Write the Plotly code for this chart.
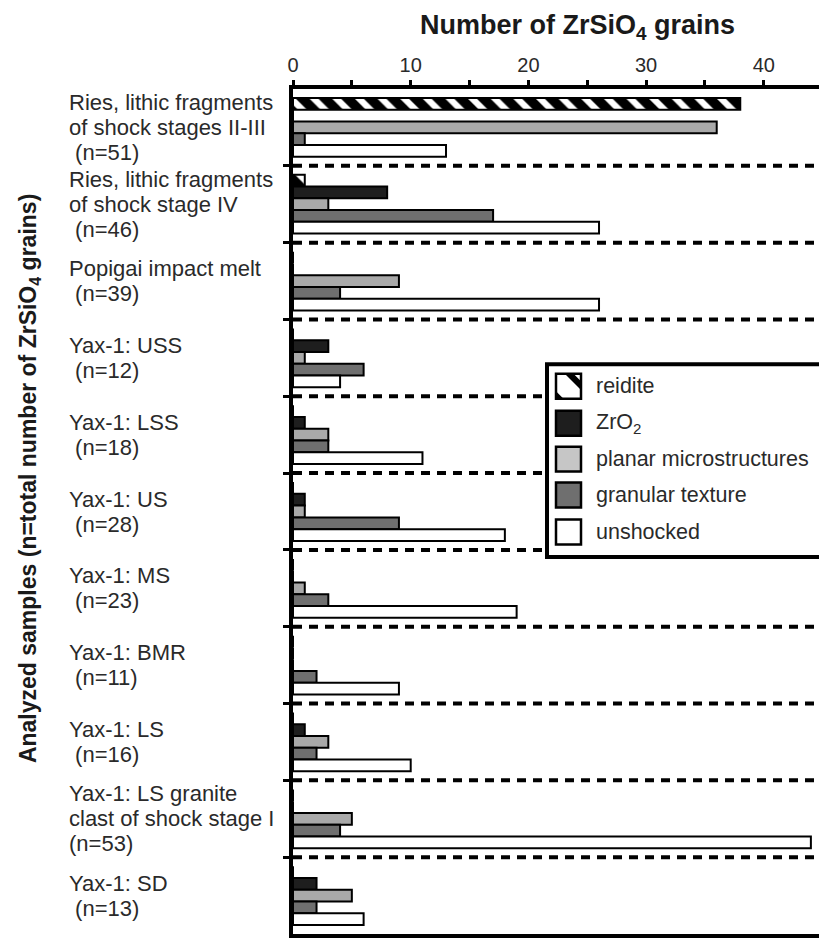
import plotly.graph_objects as go

# ---------------- data ----------------
samples = [
    "Ries, lithic fragments<br>of shock stages II-III<br>\u00a0(n=51)",
    "Ries, lithic fragments<br>of shock stage IV<br>\u00a0(n=46)",
    "Popigai impact melt<br>\u00a0(n=39)",
    "Yax-1: USS<br>\u00a0(n=12)",
    "Yax-1: LSS<br>\u00a0(n=18)",
    "Yax-1: US<br>\u00a0(n=28)",
    "Yax-1: MS<br>\u00a0(n=23)",
    "Yax-1: BMR<br>\u00a0(n=11)",
    "Yax-1: LS<br>\u00a0(n=16)",
    "Yax-1: LS granite<br>clast of shock stage I<br>(n=53)",
    "Yax-1: SD<br>\u00a0(n=13)",
]
series_names = ["reidite", "ZrO<sub>2</sub>", "planar microstructures",
                "granular texture", "unshocked"]
reidite   = [38, 1, 0, 0, 0, 0, 0, 0, 0, 0, 0]
zro2      = [0, 8, 0, 3, 1, 1, 0, 0, 1, 0, 2]
planar    = [36, 3, 9, 1, 3, 1, 1, 0, 3, 5, 5]
granular  = [1, 17, 4, 6, 3, 9, 3, 2, 2, 4, 2]
unshocked = [13, 26, 26, 4, 11, 18, 19, 9, 10, 44, 6]
x_major_ticks = [0, 10, 20, 30, 40]
x_minor_ticks = [5, 15, 25, 35]
x_title = "<b>Number of ZrSiO<sub>4</sub> grains</b>"
y_title = "<b>Analyzed samples (n=total number of ZrSiO<sub>4</sub> grains)</b>"

# ---------------- layout geometry ----------------
W, H = 819, 938
L, R, T, B = 293, 0, 89, 2
PW, PH = W - L - R, H - T - B
FONT = "Liberation Sans, Arial, Helvetica, sans-serif"

def px(xp):
    return (xp - L) / PW

def py(yp):
    return 1 - (yp - T) / PH

series_values = [reidite, zro2, planar, granular, unshocked]
fills = ["white", "#1e1e1e", "#a9a9a9", "#6f6f6f", "white"]
legend_fills = ["white", "#1e1e1e", "#c6c6c6", "#6f6f6f", "white"]
ypos = list(range(len(samples)))

fig = go.Figure()
for i, (name, vals) in enumerate(zip(series_names, series_values)):
    marker = dict(color=fills[i], line=dict(color="black", width=2))
    if i == 0:
        marker["pattern"] = dict(shape="\\", fgcolor="black", bgcolor="white",
                                 size=16, solidity=0.6, fgopacity=1)
    fig.add_trace(go.Bar(y=ypos, x=vals, orientation="h", name=name,
                         marker=marker, showlegend=False))

shapes = []
# dashed separators between sample groups
for k in range(len(samples) - 1):
    shapes.append(dict(type="line", xref="paper", yref="y", x0=0, x1=1,
                       y0=k + 0.5, y1=k + 0.5,
                       line=dict(color="black", width=4, dash="9px,7px")))

# legend box
lx0, ly0, ly1 = 547, 365, 558
shapes.append(dict(type="rect", xref="paper", yref="paper",
                   x0=px(lx0), x1=px(W + 20), y0=py(ly1), y1=py(ly0),
                   fillcolor="white", line=dict(color="black", width=4)))

annotations = []
icon_x0, icon_size = 556, 25
centers = [387, 424, 460, 496, 533]
for i, (name, cy) in enumerate(zip(series_names, centers)):
    x0, x1 = icon_x0, icon_x0 + icon_size
    y0, y1 = cy - icon_size / 2, cy + icon_size / 2
    shapes.append(dict(type="rect", xref="paper", yref="paper",
                       x0=px(x0), x1=px(x1), y0=py(y1), y1=py(y0),
                       fillcolor=legend_fills[i], line=dict(color="black", width=2.5)))
    if i == 0:
        w = icon_size
        band = [(x0 + 0.35 * w, y0), (x0 + 0.7 * w, y0), (x1, y0 + 0.3 * w),
                (x1, y0 + 0.65 * w)]
        tri = [(x0, y0 + 0.7 * w), (x0 + 0.3 * w, y1), (x0, y1)]
        for poly in (band, tri):
            path = "M " + " L ".join(f"{px(a):.5f},{py(b):.5f}" for a, b in poly) + " Z"
            shapes.append(dict(type="path", xref="paper", yref="paper", path=path,
                               fillcolor="black", line=dict(width=0)))
    annotations.append(dict(xref="paper", yref="paper", x=px(594), y=py(cy),
                            xanchor="left", yanchor="middle", showarrow=False,
                            text=name, font=dict(family=FONT, size=21.5, color="#2a2a2a")))

# sample labels (left-aligned, one annotation per line)
line_gap = 25
for k, lab in enumerate(samples):
    lines = lab.split("<br>")
    n = len(lines)
    for j, ln in enumerate(lines):
        annotations.append(dict(xref="paper", yref="y", x=px(67), y=k,
                                yshift=-(j - (n - 1) / 2) * line_gap,
                                xanchor="left", yanchor="middle", showarrow=False,
                                text=ln, align="left",
                                font=dict(family=FONT, size=22, color="#2a2a2a")))

# axis titles
annotations.append(dict(xref="paper", yref="paper", x=px(577), y=py(27),
                        xanchor="center", yanchor="middle", showarrow=False,
                        text=x_title, font=dict(family=FONT, size=27, color="#1a1a1a")))
annotations.append(dict(xref="paper", yref="paper", x=px(29), y=py(480),
                        xanchor="center", yanchor="middle", showarrow=False,
                        textangle=-90, text=y_title,
                        font=dict(family=FONT, size=23, color="#1a1a1a")))

fig.update_layout(
    width=W, height=H,
    margin=dict(l=L, r=R, t=T, b=B, pad=0),
    paper_bgcolor="white", plot_bgcolor="white",
    barmode="group", bargap=0.235, bargroupgap=0,
    showlegend=False,
    shapes=shapes, annotations=annotations,
    xaxis=dict(side="top", range=[0, PW / 11.77], tickvals=x_major_ticks,
               ticks="outside", ticklen=5, tickwidth=3,
               tickcolor="black", showline=True, linecolor="black", linewidth=4,
               mirror=True, showgrid=False, zeroline=False,
               minor=dict(tickvals=x_minor_ticks, ticks="outside", ticklen=5,
                          tickwidth=3, tickcolor="black", showgrid=False),
               tickfont=dict(family=FONT, size=20, color="#2a2a2a")),
    yaxis=dict(range=[len(samples) - 0.5, -0.5],
               tickvals=[k + 0.5 for k in range(len(samples) - 1)],
               showticklabels=False, ticks="outside", ticklen=6, tickwidth=3,
               tickcolor="black", showline=True, linecolor="black", linewidth=4,
               showgrid=False, zeroline=False),
)

fig.write_html("out.html", config={"displayModeBar": False},
               post_script="document.body.style.margin='0';"
                           "document.body.style.overflow='hidden';")
